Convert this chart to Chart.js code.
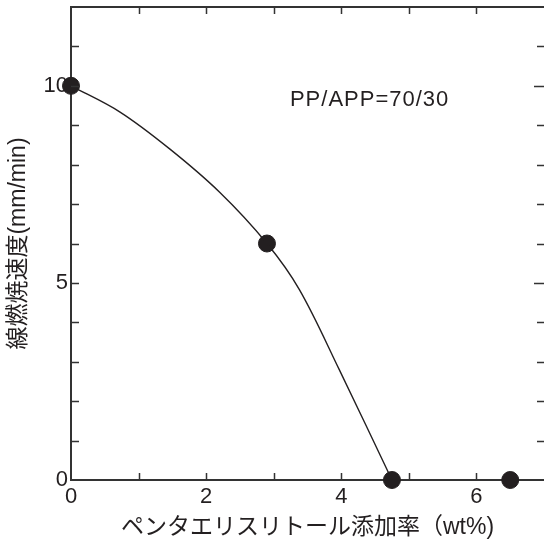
<!DOCTYPE html>
<html>
<head>
<meta charset="utf-8">
<script src="https://cdn.jsdelivr.net/npm/chart.js@4"></script>
<style>
  html, body { margin: 0; padding: 0; background: #fff; }
  canvas { display: block; }
</style>
</head>
<body>
<canvas id="chart" width="544" height="541"></canvas>
<script>
// measured points
const pentaContent = [0, 2.9, 4.75, 6.5];
const burnRate = [10, 6, 0, 0];
// fitted curve
const curveX = [0, 0.72, 1.46, 2.2, 2.9, 3.38, 3.97, 4.75];
const curveY = [10, 9.34, 8.4, 7.3, 6, 4.83, 2.8, 0];
const xLabels = [0, 2, 4, 6];
const yLabels = [0, 5, 10];
const note = "PP/APP=70/30";

const INK = "#231f20";
const FONT = "'Liberation Sans', 'Noto Sans CJK JP', sans-serif";

const frame = {
      id: "frame",
      afterDraw(chart) {
            const ctx = chart.ctx;
            const { left, right, top, bottom } = chart.chartArea;
            const xs = chart.scales.x;
            const ys = chart.scales.y;
            ctx.save();
            ctx.strokeStyle = "#333";
            ctx.lineWidth = 2;
            ctx.beginPath();
            ctx.moveTo(left - 1, top);
            ctx.lineTo(right, top);
            ctx.stroke();

            ctx.lineWidth = 1.5;
            ctx.beginPath();
            for (let v = 1; v < 7; v++) {
                  const px = Math.round(xs.getPixelForValue(v)) + 0.5;
                  ctx.moveTo(px, bottom);
                  ctx.lineTo(px, bottom - 7);
                  ctx.moveTo(px, top);
                  ctx.lineTo(px, top + 7);
            }
            for (let v = 1; v < 12; v++) {
                  const py = Math.round(ys.getPixelForValue(v)) + 0.5;
                  ctx.moveTo(left, py);
                  ctx.lineTo(left + 8, py);
                  const len = yLabels.includes(v) ? 10 : 7;
                  ctx.moveTo(right, py);
                  ctx.lineTo(right - len, py);
            }
            ctx.stroke();

            ctx.fillStyle = INK;
            ctx.font = "22px " + FONT;
            ctx.textAlign = "left";
            ctx.textBaseline = "middle";
            ctx.letterSpacing = "1px";
            ctx.fillText(note, xs.getPixelForValue(3.24), ys.getPixelForValue(9.65));
            ctx.restore();
      },
};

const ctx = document.getElementById("chart");

new Chart(ctx, {
      type: "scatter",
      data: {
            datasets: [
                  {
                        type: "line",
                        data: curveX.map((x, i) => ({ x: x, y: curveY[i] })),
                        borderColor: INK,
                        borderWidth: 1.4,
                        pointRadius: 0,
                        tension: 0.35,
                        fill: false,
                        clip: false,
                  },
                  {
                        data: pentaContent.map((x, i) => ({ x: x, y: burnRate[i] })),
                        backgroundColor: INK,
                        borderColor: INK,
                        pointRadius: 8.5,
                        pointHoverRadius: 8.5,
                        clip: false,
                  },
            ],
      },
      options: {
            responsive: false,
            animation: false,
            devicePixelRatio: 1,
            layout: { autoPadding: false, padding: { top: 7, right: 0, left: 0, bottom: 0 } },
            plugins: {
                  legend: { display: false },
                  tooltip: { enabled: false },
            },
            scales: {
                  x: {
                        type: "linear",
                        min: 0,
                        max: 7,
                        afterFit: (scale) => {
                              scale.height = 61;
                              scale.paddingLeft = 0;
                              scale.paddingRight = 0;
                        },
                        grid: { display: false, drawTicks: false },
                        border: { display: true, color: "#333", width: 2 },
                        ticks: {
                              stepSize: 1,
                              autoSkip: false,
                              maxRotation: 0,
                              padding: 4,
                              color: INK,
                              font: { family: FONT, size: 22 },
                              callback: (v) => (xLabels.includes(v) ? String(v) : ""),
                        },
                        title: {
                              display: true,
                              text: "ペンタエリスリトール添加率（wt%)",
                              color: INK,
                              font: { family: FONT, size: 23 },
                              padding: { top: 0, bottom: 0 },
                        },
                  },
                  y: {
                        type: "linear",
                        min: 0,
                        max: 12,
                        afterFit: (scale) => {
                              scale.width = 71;
                              scale.paddingTop = 0;
                              scale.paddingBottom = 0;
                        },
                        grid: { display: false, drawTicks: false },
                        border: { display: true, color: "#333", width: 2 },
                        ticks: {
                              stepSize: 1,
                              autoSkip: false,
                              padding: 3,
                              color: INK,
                              font: { family: FONT, size: 22 },
                              callback: (v) => (yLabels.includes(v) ? String(v) : ""),
                        },
                        title: {
                              display: true,
                              text: "線燃焼速度(mm/min)",
                              color: INK,
                              font: { family: FONT, size: 23 },
                              padding: { top: 5, bottom: 0 },
                        },
                  },
            },
      },
      plugins: [frame],
});
</script>
</body>
</html>
